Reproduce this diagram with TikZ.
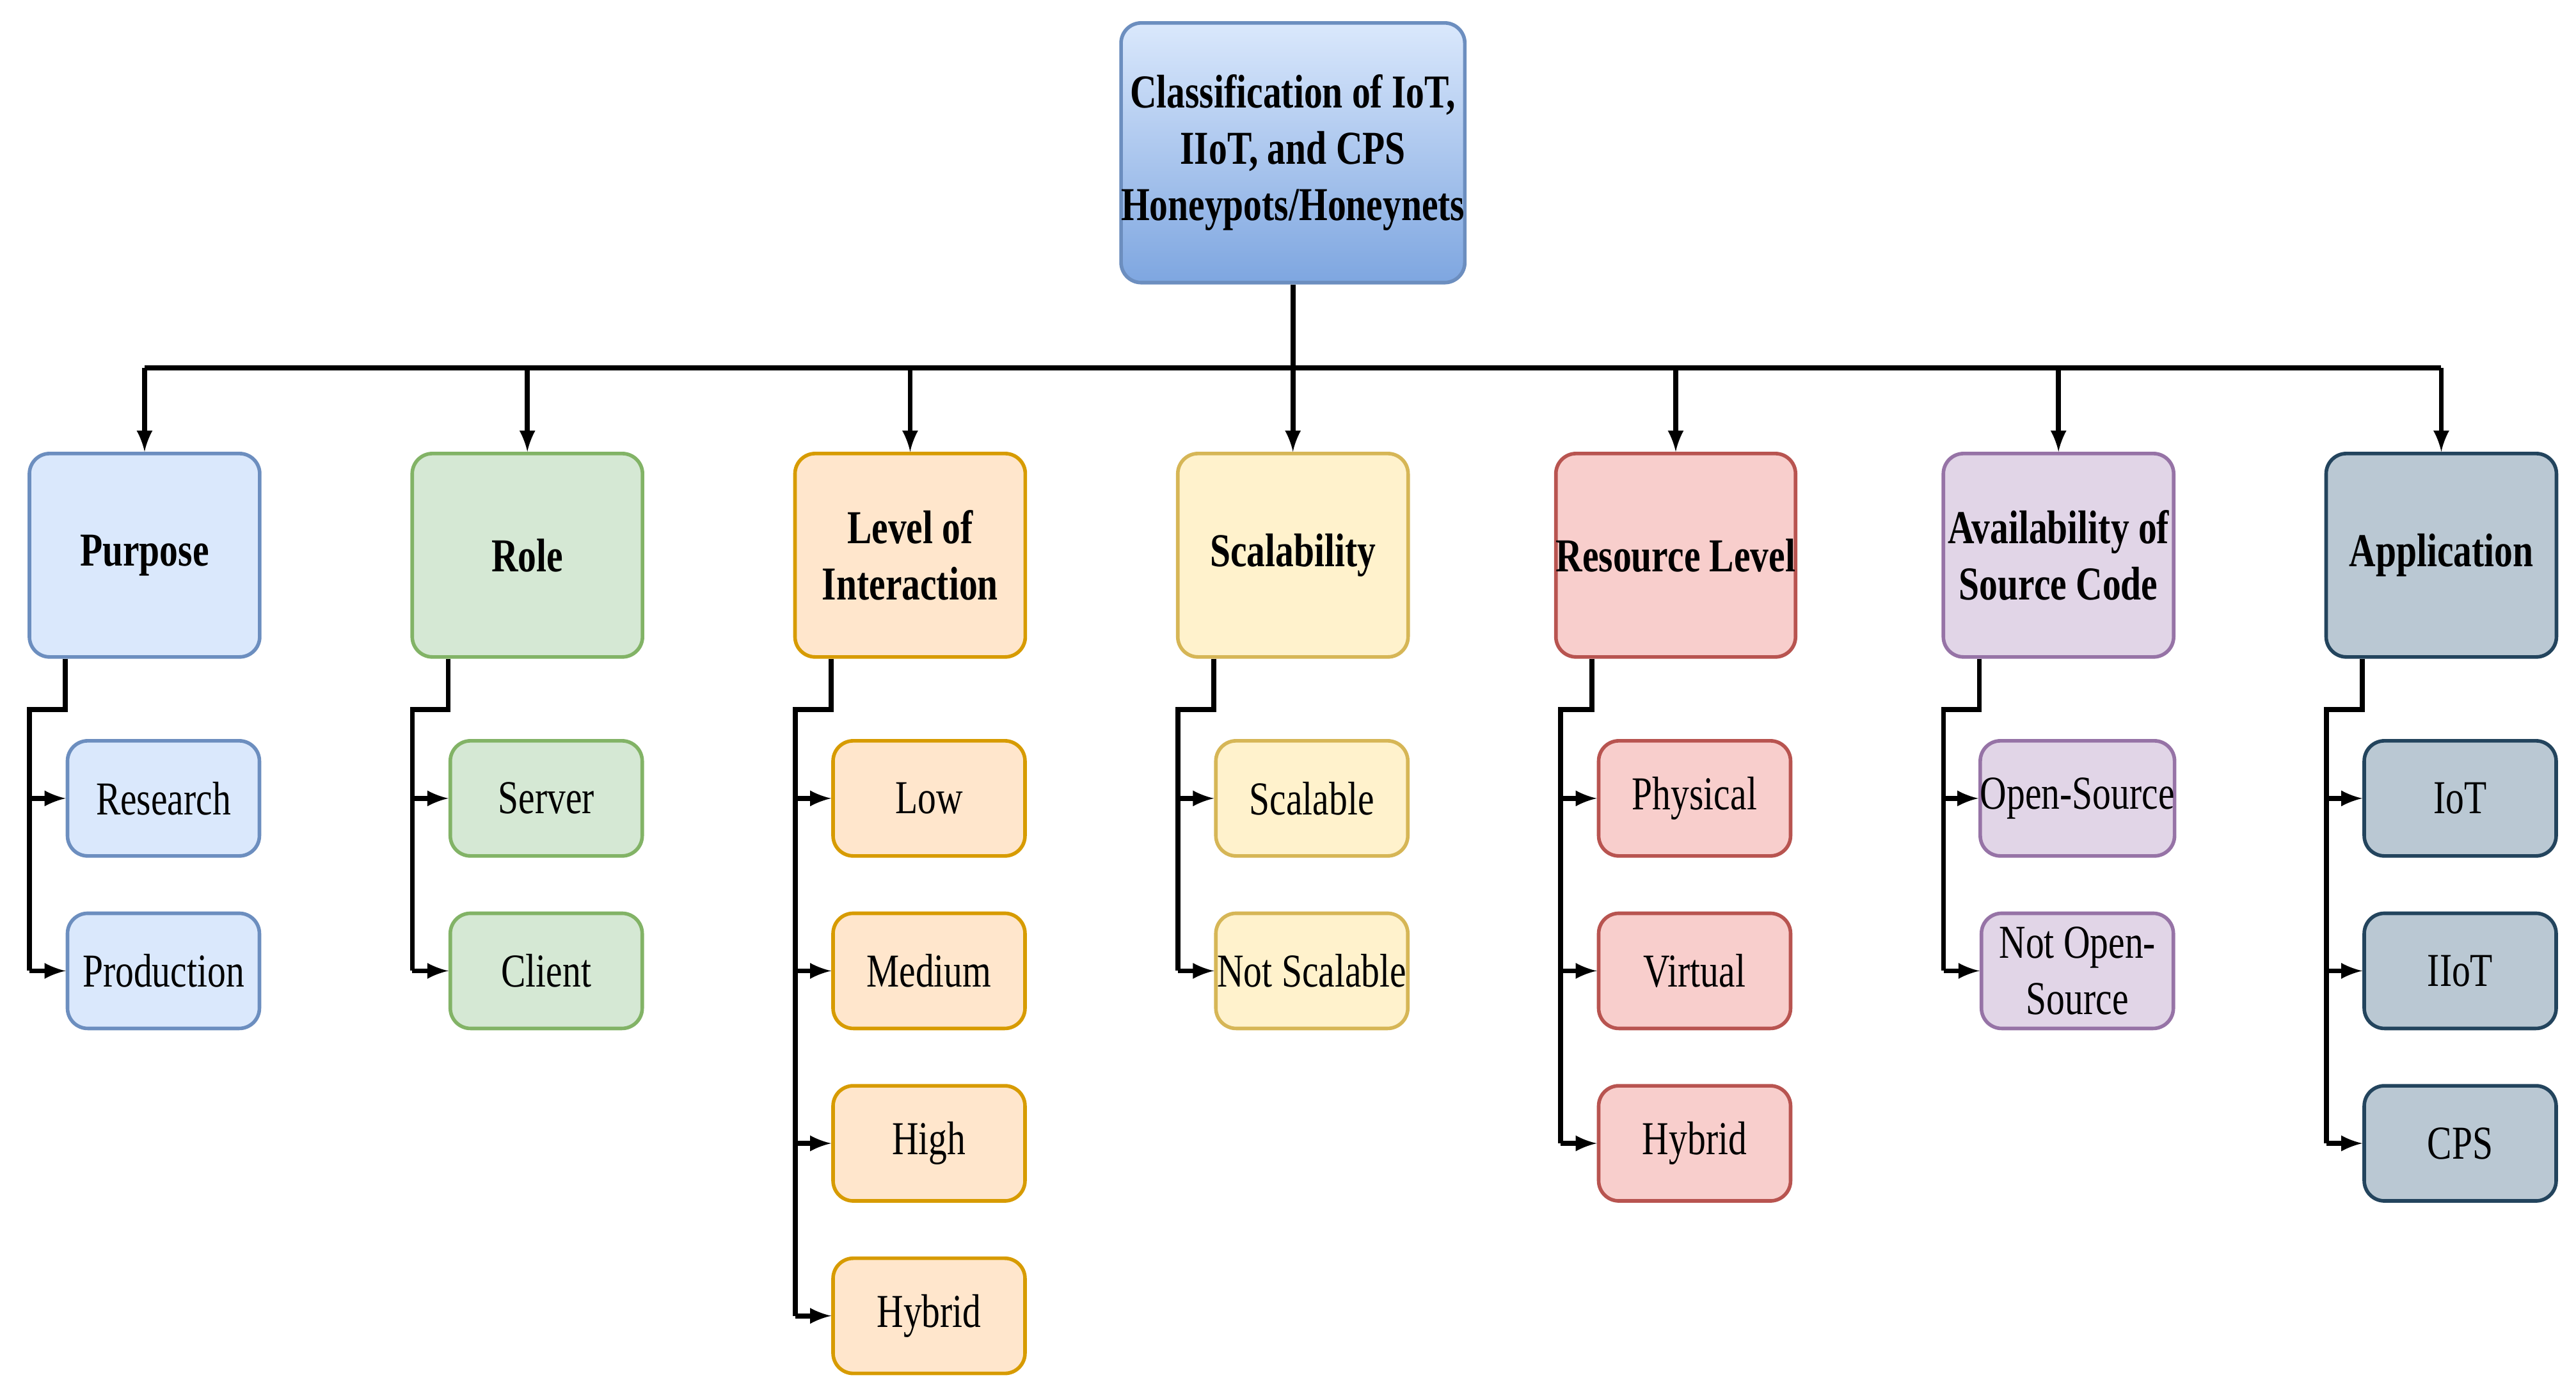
\documentclass[tikz,border=0pt]{standalone}
\usepackage{fontspec}
\setmainfont[FakeStretch=0.78]{Liberation Serif}
\begin{document}
\begin{tikzpicture}[x=0.02568cm,y=-0.02568cm,
  base/.style={draw,line width=1.6pt,rounded corners=9pt,align=center,inner sep=0pt,font=\fontsize{21}{25}\selectfont},
  cat/.style={base,minimum width=3.6cm,minimum height=3.18cm,font=\fontsize{21}{25}\selectfont\bfseries},
  leaf/.style={base,minimum width=3.0cm,minimum height=1.8cm},
  conn/.style={line width=2.2pt,black},
  arr/.style={conn,-latex}]
\useasboundingbox (0,0) rectangle (1568,845.5);
\definecolor{f1}{HTML}{DAE8FC}\definecolor{s1}{HTML}{6C8EBF}
\definecolor{f2}{HTML}{D5E8D4}\definecolor{s2}{HTML}{82B366}
\definecolor{f3}{HTML}{FFE6CC}\definecolor{s3}{HTML}{D79B00}
\definecolor{f4}{HTML}{FFF2CC}\definecolor{s4}{HTML}{D6B656}
\definecolor{f5}{HTML}{F8CECC}\definecolor{s5}{HTML}{B85450}
\definecolor{f6}{HTML}{E1D5E7}\definecolor{s6}{HTML}{9673A6}
\definecolor{f7}{HTML}{BAC8D3}\definecolor{s7}{HTML}{23445D}
\definecolor{g2}{HTML}{7EA6E0}
\node[base,draw=s1,top color=f1,bottom color=g2,minimum width=5.08cm,minimum height=4.06cm,font=\fontsize{21}{25}\selectfont\bfseries] (root) at (787,93) {Classification of IoT,\\IIoT, and CPS\\Honeypots/Honeynets};
\coordinate (bus) at (787,224);
\draw[conn] (root.south) -- (bus);
\draw[conn] (88,224) -- (1486,224);
\foreach \n/\x/\t/\c/\kids in {
 a/88/Purpose/1/{Research,Production},
 b/321/Role/2/{Server,Client},
 c/554/{Level of\\Interaction}/3/{Low,Medium,High,Hybrid},
 d/787/Scalability/4/{Scalable,Not Scalable},
 e/1020/Resource Level/5/{Physical,Virtual,Hybrid},
 f/1253/{Availability of\\Source Code}/6/{Open-Source,{Not Open-\\Source}},
 g/1486/Application/7/{IoT,IIoT,CPS}}{
  \coordinate (t\n) at (\x,224);
  \node[cat,draw=s\c,fill=f\c] (\n) at (\x,338) {\t};
  \draw[arr] (t\n) -- (\n.north);
  \coordinate (j\n) at (\x-70,432);
  \foreach \k [count=\i] in \kids {
    \node[leaf,draw=s\c,fill=f\c] (\n\i) at (\x+11.5,381+105*\i) {\k};
    \coordinate (v\n\i) at (\x-70,381+105*\i);
    \draw[arr] (v\n\i) -- (\n\i.west);
    \xdef\last{\i}
  }
  \draw[conn] ([xshift=0.59cm]\n.south west) |- (j\n) -- (v\n\last);
}
\end{tikzpicture}
\end{document}
